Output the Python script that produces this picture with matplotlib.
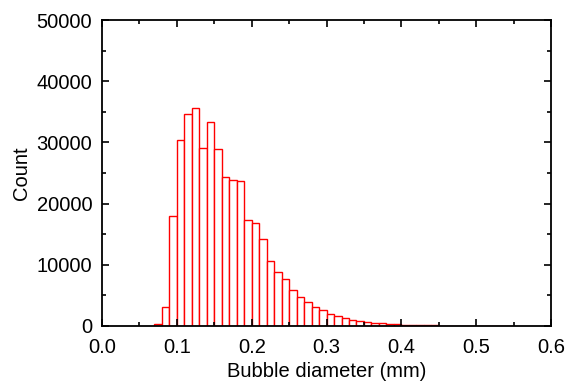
import numpy as np
import matplotlib
matplotlib.use('Agg')
import matplotlib.pyplot as plt
from matplotlib.ticker import MultipleLocator

plt.rcParams['font.family'] = ['Liberation Sans', 'DejaVu Sans']

# histogram bins (left edges, mm) and counts
bin_width = 0.01
bin_left = [0.07, 0.08, 0.09, 0.10, 0.11, 0.12, 0.13, 0.14, 0.15, 0.16,
            0.17, 0.18, 0.19, 0.20, 0.21, 0.22, 0.23, 0.24, 0.25, 0.26,
            0.27, 0.28, 0.29, 0.30, 0.31, 0.32, 0.33, 0.34, 0.35, 0.36,
            0.37, 0.38, 0.39, 0.40, 0.41, 0.42, 0.43, 0.44, 0.45, 0.46,
            0.47, 0.48, 0.49, 0.50, 0.51, 0.52, 0.53, 0.54]
counts = [300, 3050, 17900, 30400, 34700, 35700, 29100, 33350, 28950, 24400,
          23900, 23700, 17350, 16750, 14150, 10650, 8800, 7750, 5850, 4800,
          3900, 3100, 2550, 1900, 1550, 1250, 1030, 780, 650, 540,
          430, 340, 270, 220, 170, 140, 110, 85, 65, 50,
          40, 32, 25, 20, 15, 12, 10, 8]

fig = plt.figure(figsize=(5.67, 3.81), dpi=100)
ax = fig.add_axes([0.18, 0.1444, 0.7918, 0.8031])

ax.bar(bin_left, counts, width=bin_width, align='edge',
       facecolor='white', edgecolor='red', linewidth=1.0)

ax.set_xlim(0, 0.6)
ax.set_ylim(0, 50000)
ax.xaxis.set_major_locator(MultipleLocator(0.1))
ax.xaxis.set_minor_locator(MultipleLocator(0.05))
ax.yaxis.set_major_locator(MultipleLocator(10000))
ax.yaxis.set_minor_locator(MultipleLocator(5000))
ax.xaxis.set_major_formatter(plt.FormatStrFormatter('%.1f'))

ax.tick_params(which='both', direction='in', top=True, right=True,
               labelsize=14.5, width=1.2)
ax.tick_params(axis='x', pad=9)
ax.tick_params(axis='y', pad=7)
ax.tick_params(which='major', length=5)
ax.tick_params(which='minor', length=3)
for s in ax.spines.values():
    s.set_linewidth(1.3)

ax.set_xlabel('Bubble diameter (mm)', fontsize=14.5, labelpad=3)
ax.set_ylabel('Count', fontsize=14.5, labelpad=4)

fig.savefig('out.png', dpi=100)
